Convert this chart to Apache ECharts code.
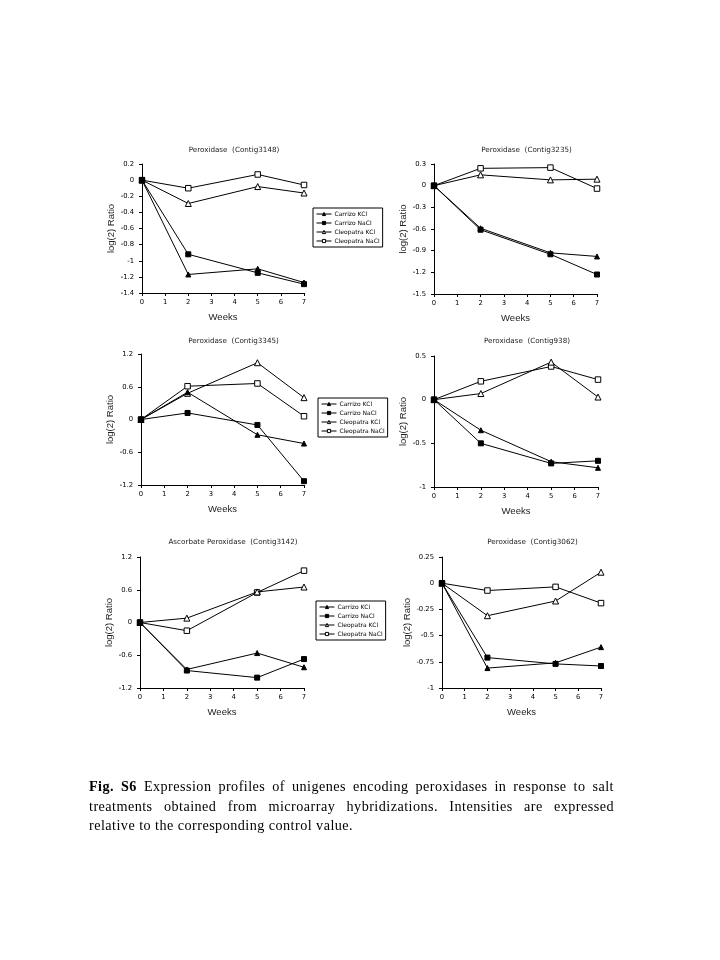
<!DOCTYPE html>
<html>
<head>
<meta charset="utf-8">
<script src="https://cdn.jsdelivr.net/npm/echarts@6/dist/echarts.min.js"></script>
<style>
html,body{margin:0;padding:0;background:#fff;}
#chart{position:absolute;left:0;top:0;width:720px;height:960px;}
#caption{position:absolute;left:89px;top:777px;width:525px;font-family:"Liberation Serif","Times New Roman",serif;font-size:14.2px;line-height:19.6px;color:#000;letter-spacing:0.45px;}
#caption .j{text-align:justify;text-align-last:justify;white-space:nowrap;display:block;}
#caption .l{display:block;white-space:nowrap;}
</style>
</head>
<body>
<div id="chart"></div>
<div id="caption"><span class="j"><b>Fig. S6</b> Expression profiles of unigenes encoding peroxidases in response to salt</span><span class="j" style="white-space:normal">treatments obtained from microarray hybridizations. Intensities are expressed</span><span class="l">relative to the corresponding control value.</span></div>
<script>
// ---- data ----
const weeks = [0, 2, 5, 7];
const seriesNames = ['Carrizo KCl', 'Carrizo NaCl', 'Cleopatra KCl', 'Cleopatra NaCl'];
const panelTitles = [
  'Peroxidase  (Contig3148)',
  'Peroxidase  (Contig3235)',
  'Peroxidase  (Contig3345)',
  'Peroxidase  (Contig938)',
  'Ascorbate Peroxidase  (Contig3142)',
  'Peroxidase  (Contig3062)'
];
// values per panel: [Carrizo KCl, Carrizo NaCl, Cleopatra KCl, Cleopatra NaCl]
const p1CarrizoKCl = [0, -1.17, -1.10, -1.27];
const p1CarrizoNaCl = [0, -0.92, -1.15, -1.29];
const p1CleoKCl = [0, -0.29, -0.08, -0.16];
const p1CleoNaCl = [0, -0.10, 0.07, -0.06];

const p2CarrizoKCl = [0, -0.59, -0.93, -0.98];
const p2CarrizoNaCl = [0, -0.61, -0.95, -1.23];
const p2CleoKCl = [0, 0.15, 0.08, 0.09];
const p2CleoNaCl = [0, 0.24, 0.25, -0.04];

const p3CarrizoKCl = [0, 0.50, -0.28, -0.44];
const p3CarrizoNaCl = [0, 0.12, -0.10, -1.13];
const p3CleoKCl = [0, 0.48, 1.04, 0.40];
const p3CleoNaCl = [0, 0.61, 0.66, 0.06];

const p4CarrizoKCl = [0, -0.35, -0.71, -0.78];
const p4CarrizoNaCl = [0, -0.50, -0.73, -0.70];
const p4CleoKCl = [0, 0.07, 0.43, 0.03];
const p4CleoNaCl = [0, 0.21, 0.38, 0.23];

const p5CarrizoKCl = [0, -0.86, -0.56, -0.82];
const p5CarrizoNaCl = [0, -0.88, -1.01, -0.67];
const p5CleoKCl = [0, 0.08, 0.56, 0.65];
const p5CleoNaCl = [0, -0.15, 0.55, 0.95];

const p6CarrizoKCl = [0, -0.81, -0.76, -0.61];
const p6CarrizoNaCl = [0, -0.71, -0.77, -0.79];
const p6CleoKCl = [0, -0.31, -0.17, 0.105];
const p6CleoNaCl = [0, -0.07, -0.035, -0.19];

const yMin = [-1.4, -1.5, -1.2, -1, -1.2, -1];
const yMax = [0.2, 0.3, 1.2, 0.5, 1.2, 0.25];
const yStep = [0.2, 0.3, 0.6, 0.5, 0.6, 0.25];

const panelData = [
  [p1CarrizoKCl, p1CarrizoNaCl, p1CleoKCl, p1CleoNaCl],
  [p2CarrizoKCl, p2CarrizoNaCl, p2CleoKCl, p2CleoNaCl],
  [p3CarrizoKCl, p3CarrizoNaCl, p3CleoKCl, p3CleoNaCl],
  [p4CarrizoKCl, p4CarrizoNaCl, p4CleoKCl, p4CleoNaCl],
  [p5CarrizoKCl, p5CarrizoNaCl, p5CleoKCl, p5CleoNaCl],
  [p6CarrizoKCl, p6CarrizoNaCl, p6CleoKCl, p6CleoNaCl]
];

// ---- layout ----
const grids = [
  {left: 142, top: 164, width: 162, height: 129},
  {left: 434, top: 164, width: 163, height: 130},
  {left: 141, top: 354, width: 163, height: 131},
  {left: 434, top: 356, width: 164, height: 131},
  {left: 140, top: 557, width: 164, height: 131},
  {left: 442, top: 557, width: 159, height: 131}
];
const titleY = [142, 142, 333, 333, 534, 534];
const legendPos = [
  {left: 313, top: 208},
  {left: 318, top: 398},
  {left: 316, top: 601}
];
const symbols = ['triangle', 'rect', 'triangle', 'rect'];
const symbolFills = ['#000', '#000', '#fff', '#fff'];
const symbolSizes = [5, 5, 6, 5.5];
const font = '"Liberation Sans", Arial, sans-serif';
const wideFont = '"DejaVu Sans", Verdana, sans-serif';

const chart = echarts.init(document.getElementById('chart'));
const xAxes = [], yAxes = [], series = [], titles = [], legends = [];
grids.forEach((g, i) => {
  xAxes.push({
    type: 'value', gridIndex: i, min: 0, max: 7, interval: 1,
    name: 'Weeks', nameLocation: 'middle', nameGap: 19,
    nameTextStyle: {fontFamily: font, fontSize: 9.5, color: '#222'},
    axisLine: {show: true, onZero: false, lineStyle: {color: '#000', width: 1}},
    axisTick: {show: true, length: 3, inside: false, lineStyle: {color: '#000'}},
    axisLabel: {fontFamily: wideFont, fontSize: 6.8, color: '#000', margin: 6},
    splitLine: {show: false}
  });
  yAxes.push({
    type: 'value', gridIndex: i, min: yMin[i], max: yMax[i], interval: yStep[i],
    name: 'log(2) Ratio', nameLocation: 'middle', nameRotate: 90, nameGap: 22,
    nameTextStyle: {fontFamily: font, fontSize: 9.5, color: '#222'},
    axisLine: {show: true, onZero: false, lineStyle: {color: '#000', width: 1}},
    axisTick: {show: true, length: 3, inside: false, lineStyle: {color: '#000'}},
    axisLabel: {fontFamily: wideFont, fontSize: 6.8, color: '#000', margin: 8,
      formatter: v => String(Math.round(v * 100) / 100)},
    splitLine: {show: false}
  });
  titles.push({
    text: panelTitles[i], left: g.left + g.width / 2 + 6, top: titleY[i], textAlign: 'center',
    textStyle: {fontFamily: wideFont, fontSize: 7.2, fontWeight: 'normal', color: '#222'}
  });
  panelData[i].forEach((vals, k) => {
    series.push({
      type: 'line', name: seriesNames[k], xAxisIndex: i, yAxisIndex: i,
      data: weeks.map((w, j) => [w, vals[j]]),
      symbol: symbols[k], symbolSize: symbolSizes[k], showSymbol: true,
      lineStyle: {color: '#000', width: 1},
      itemStyle: {color: symbolFills[k], borderColor: '#000', borderWidth: 1},
      animation: false, z: 10 - k
    });
  });
});
legendPos.forEach(p => {
  legends.push({
    data: seriesNames.map((n, k) => ({
      name: n,
      itemStyle: {color: symbolFills[k], borderColor: '#000', borderWidth: 1},
      lineStyle: {color: '#000', width: 1}
    })),
    orient: 'vertical', left: p.left, top: p.top,
    itemWidth: 15, itemHeight: 4, itemGap: 3, padding: [3, 3, 3, 3],
    borderColor: '#000', borderWidth: 1,
    textStyle: {fontFamily: wideFont, fontSize: 6, color: '#000', padding: [0, 0, 0, -2]},
    selectedMode: false
  });
});

chart.setOption({
  backgroundColor: '#fff',
  animation: false,
  title: titles,
  grid: grids,
  xAxis: xAxes,
  yAxis: yAxes,
  legend: legends,
  series: series
});
</script>
</body>
</html>
